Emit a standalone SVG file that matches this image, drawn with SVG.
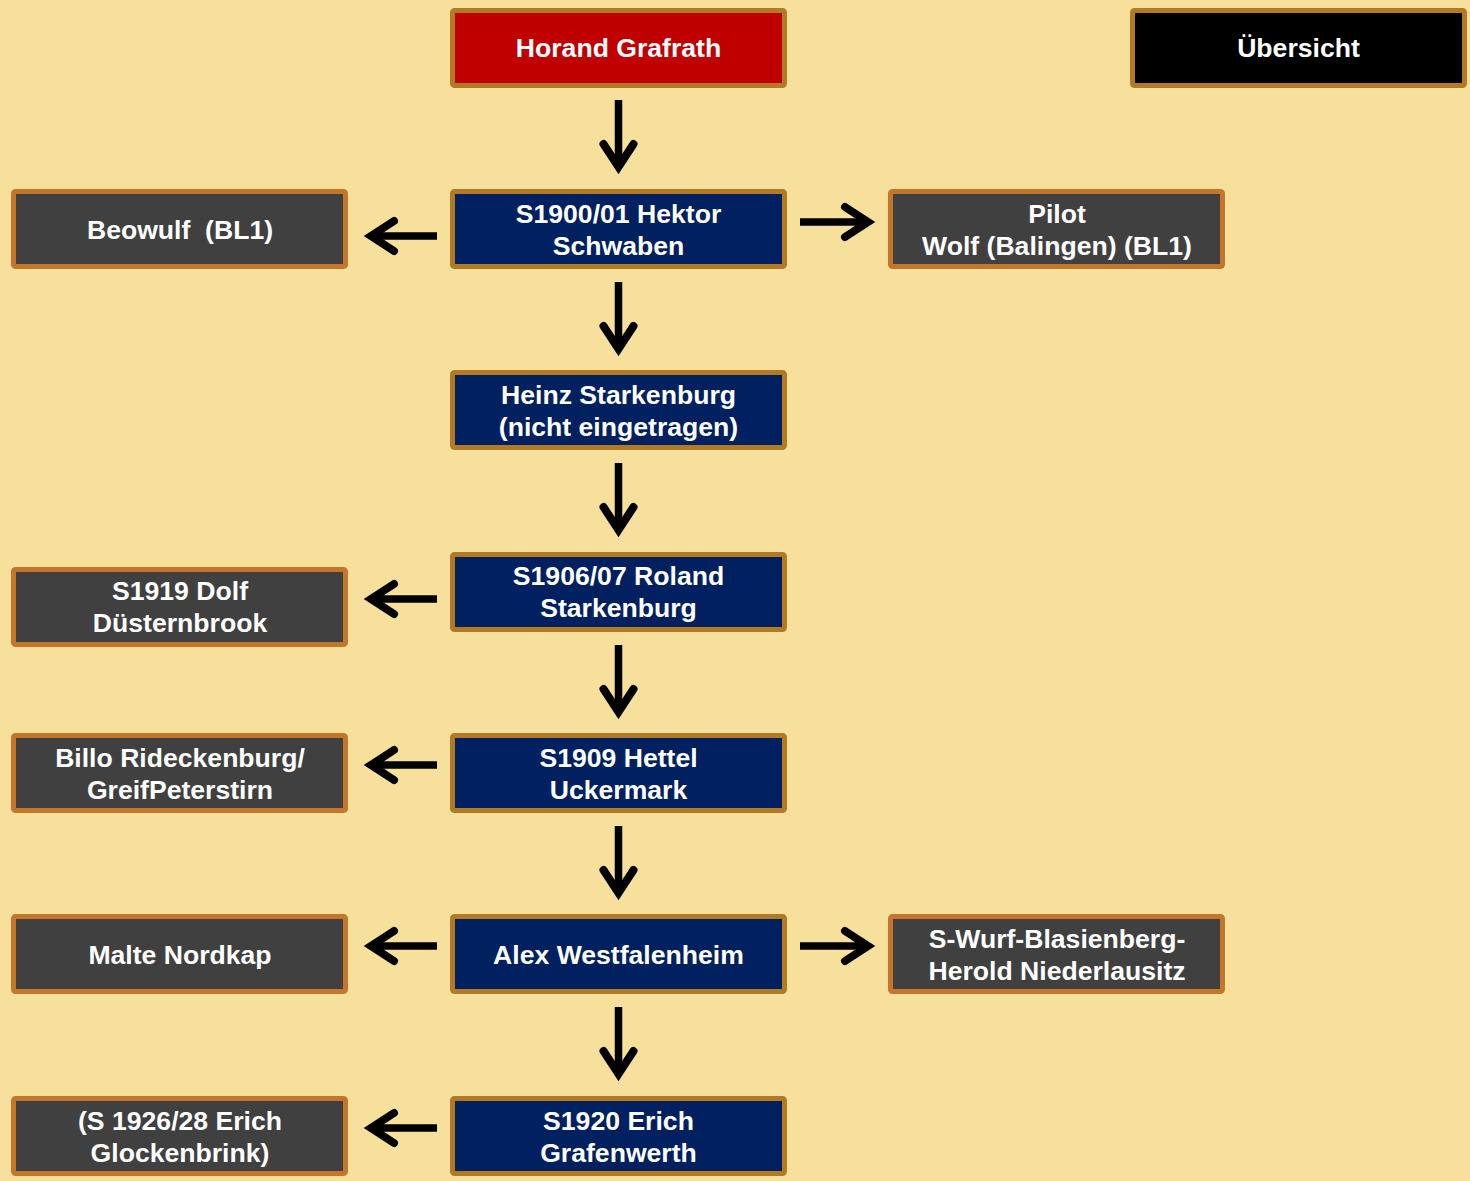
<svg xmlns="http://www.w3.org/2000/svg" width="1470" height="1181" viewBox="0 0 1470 1181">
  <style>
    .box rect { stroke-width: 5; }
    .main rect { fill: #002060; stroke: #B37A25; }
    .root rect { fill: #C00000; stroke: #B37A25; }
    .nav rect { fill: #000000; stroke: #B37A25; }
    .side rect { fill: #404040; stroke: #C4772C; }
    .box text { font-family: "Liberation Sans", Arial, sans-serif; font-weight: bold; font-size: 26.6px; fill: #FFFFFF; text-anchor: middle; white-space: pre; }
    .arrows path.head { fill: none; stroke: #000000; stroke-width: 8; stroke-linecap: round; stroke-linejoin: miter; stroke-miterlimit: 6; }
    .arrows line { stroke: #000000; stroke-width: 7.5; }
  </style>
  <rect width="1470" height="1181" fill="#F7DF9C"/>

  <!-- centre column -->
  <g id="horand" class="box root">
    <rect x="452.5" y="10.5" width="332" height="75" rx="2"/>
    <text x="618.5" y="57">Horand Grafrath</text>
  </g>
  <g id="hektor" class="box main">
    <rect x="452.5" y="191.5" width="332" height="75" rx="2"/>
    <text x="618.5" y="223">S1900/01 Hektor</text>
    <text x="618.5" y="255">Schwaben</text>
  </g>
  <g id="heinz" class="box main">
    <rect x="452.5" y="372.5" width="332" height="75" rx="2"/>
    <text x="618.5" y="404">Heinz Starkenburg</text>
    <text x="618.5" y="436">(nicht eingetragen)</text>
  </g>
  <g id="roland" class="box main">
    <rect x="452.5" y="554.5" width="332" height="75" rx="2"/>
    <text x="618.5" y="585">S1906/07 Roland</text>
    <text x="618.5" y="617">Starkenburg</text>
  </g>
  <g id="hettel" class="box main">
    <rect x="452.5" y="735.5" width="332" height="75" rx="2"/>
    <text x="618.5" y="767">S1909 Hettel</text>
    <text x="618.5" y="799">Uckermark</text>
  </g>
  <g id="alex" class="box main">
    <rect x="452.5" y="916.5" width="332" height="75" rx="2"/>
    <text x="618.5" y="964">Alex Westfalenheim</text>
  </g>
  <g id="erich" class="box main">
    <rect x="452.5" y="1098.5" width="332" height="75" rx="2"/>
    <text x="618.5" y="1130">S1920 Erich</text>
    <text x="618.5" y="1162">Grafenwerth</text>
  </g>

  <!-- left column -->
  <g id="beowulf" class="box side">
    <rect x="13.5" y="191.5" width="332" height="75" rx="2"/>
    <text x="180" y="239">Beowulf  (BL1)</text>
  </g>
  <g id="dolf" class="box side">
    <rect x="13.5" y="569.5" width="332" height="75" rx="2"/>
    <text x="180" y="600">S1919 Dolf</text>
    <text x="180" y="632">Düsternbrook</text>
  </g>
  <g id="billo" class="box side">
    <rect x="13.5" y="735.5" width="332" height="75" rx="2"/>
    <text x="180" y="767">Billo Rideckenburg/</text>
    <text x="180" y="799">GreifPeterstirn</text>
  </g>
  <g id="malte" class="box side">
    <rect x="13.5" y="916.5" width="332" height="75" rx="2"/>
    <text x="180" y="964">Malte Nordkap</text>
  </g>
  <g id="glockenbrink" class="box side">
    <rect x="13.5" y="1098.5" width="332" height="75" rx="2"/>
    <text x="180" y="1130">(S 1926/28 Erich</text>
    <text x="180" y="1162">Glockenbrink)</text>
  </g>

  <!-- right column -->
  <g id="pilot" class="box side">
    <rect x="890.5" y="191.5" width="332" height="75" rx="2"/>
    <text x="1057" y="223">Pilot</text>
    <text x="1057" y="255">Wolf (Balingen) (BL1)</text>
  </g>
  <g id="wurf" class="box side">
    <rect x="890.5" y="916.5" width="332" height="75" rx="2"/>
    <text x="1057" y="948">S-Wurf-Blasienberg-</text>
    <text x="1057" y="980">Herold Niederlausitz</text>
  </g>
  <g id="uebersicht" class="box nav">
    <rect x="1132.5" y="10.5" width="332" height="75" rx="2"/>
    <text x="1298.5" y="57">Übersicht</text>
  </g>

  <!-- connectors -->
  <g id="connectors" class="arrows">
    <!-- downward arrows along the centre column -->
    <line x1="618.5" y1="100" x2="618.5" y2="166"/>
    <path class="head" d="M603.5,144 L618.5,167 L633.5,144"/>
    <line x1="618.5" y1="282" x2="618.5" y2="348"/>
    <path class="head" d="M603.5,326 L618.5,349 L633.5,326"/>
    <line x1="618.5" y1="463" x2="618.5" y2="529"/>
    <path class="head" d="M603.5,507 L618.5,530 L633.5,507"/>
    <line x1="618.5" y1="645" x2="618.5" y2="711"/>
    <path class="head" d="M603.5,689 L618.5,712 L633.5,689"/>
    <line x1="618.5" y1="826" x2="618.5" y2="892"/>
    <path class="head" d="M603.5,870 L618.5,893 L633.5,870"/>
    <line x1="618.5" y1="1007" x2="618.5" y2="1073"/>
    <path class="head" d="M603.5,1051 L618.5,1074 L633.5,1051"/>

    <!-- leftward arrows -->
    <line x1="437" y1="236" x2="372" y2="236"/>
    <path class="head" d="M394,221 L371,236 L394,251"/>
    <line x1="437" y1="599" x2="372" y2="599"/>
    <path class="head" d="M394,584 L371,599 L394,614"/>
    <line x1="437" y1="765" x2="372" y2="765"/>
    <path class="head" d="M394,750 L371,765 L394,780"/>
    <line x1="437" y1="946" x2="372" y2="946"/>
    <path class="head" d="M394,931 L371,946 L394,961"/>
    <line x1="437" y1="1128" x2="372" y2="1128"/>
    <path class="head" d="M394,1113 L371,1128 L394,1143"/>

    <!-- rightward arrows -->
    <line x1="800" y1="222" x2="867" y2="222"/>
    <path class="head" d="M845,207 L868,222 L845,237"/>
    <line x1="800" y1="946" x2="867" y2="946"/>
    <path class="head" d="M845,931 L868,946 L845,961"/>
  </g>
</svg>
